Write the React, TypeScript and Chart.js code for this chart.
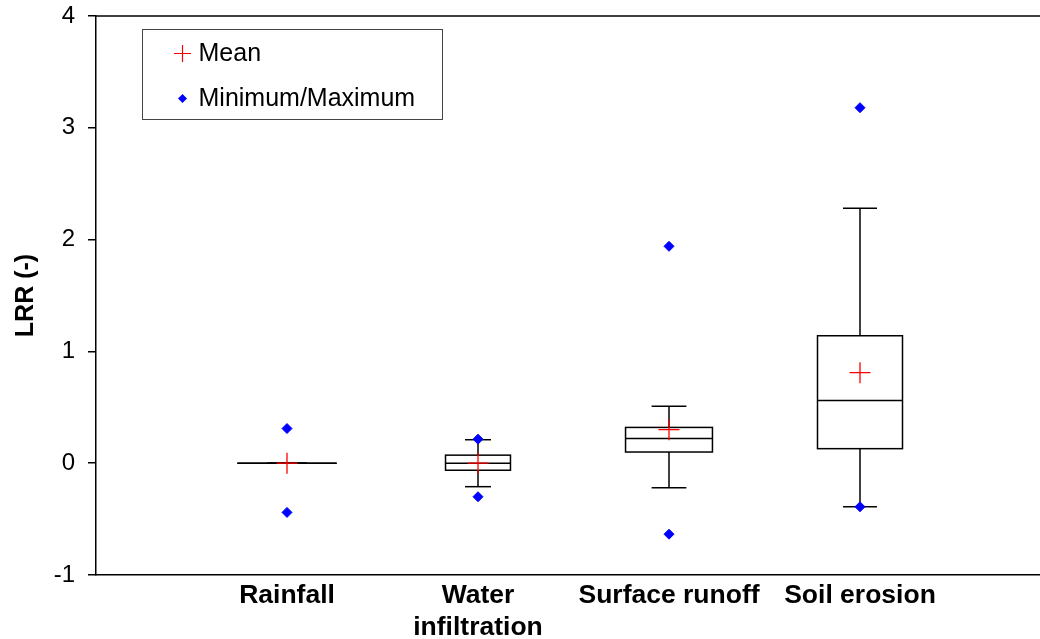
import { useEffect, useRef } from 'react';
import { Chart, registerables } from 'chart.js';

Chart.register(...registerables);

// Categories and their positions on the x axis
const categories: (string | string[])[] = ['Rainfall', ['Water', 'infiltration'], 'Surface runoff', 'Soil erosion'];
const positions = [1, 2, 3, 4];
const boxWidths = [0.52, 0.34, 0.455, 0.445];

// Box-plot statistics of the log response ratio
const minimum = [-0.44, -0.3, -0.635, -0.39];
const maximum = [0.31, 0.215, 1.94, 3.18];
const whiskerLow = [0, -0.21, -0.22, -0.39];
const whiskerHigh = [0, 0.21, 0.51, 2.28];
const q1 = [0, -0.063, 0.1, 0.13];
const median = [0, 0, 0.22, 0.56];
const q3 = [0, 0.072, 0.32, 1.14];
const mean = [0, 0, 0.3, 0.81];

const yTicks = [-1, 0, 1, 2, 3, 4];

const FONT = '"Liberation Sans", Arial, Helvetica, sans-serif';

const boxPlugin = {
  id: 'boxWhisker',
  beforeDatasetsDraw(chart: any) {
    const { ctx, scales } = chart;
    const x = scales.x;
    const y = scales.y;
    ctx.save();
    ctx.strokeStyle = '#000';
    ctx.lineWidth = 1.5;
    const line = (x1: number, y1: number, x2: number, y2: number) => {
      ctx.beginPath();
      ctx.moveTo(x1, y1);
      ctx.lineTo(x2, y2);
      ctx.stroke();
    };
    positions.forEach((p, i) => {
      const cx = x.getPixelForValue(p);
      const half = (x.getPixelForValue(p + boxWidths[i] / 2) - x.getPixelForValue(p - boxWidths[i] / 2)) / 2;
      const capHalf = half * 0.4;
      const yLo = y.getPixelForValue(whiskerLow[i]);
      const yHi = y.getPixelForValue(whiskerHigh[i]);
      const yQ1 = y.getPixelForValue(q1[i]);
      const yQ3 = y.getPixelForValue(q3[i]);
      const yMed = y.getPixelForValue(median[i]);
      line(cx, yQ3, cx, yHi);
      line(cx - capHalf, yHi, cx + capHalf, yHi);
      line(cx, yQ1, cx, yLo);
      line(cx - capHalf, yLo, cx + capHalf, yLo);
      ctx.strokeRect(cx - half, yQ3, 2 * half, yQ1 - yQ3);
      line(cx - half, yMed, cx + half, yMed);
    });
    ctx.restore();
  },
};

const framePlugin = {
  id: 'frameAndLegend',
  afterDraw(chart: any) {
    const { ctx, chartArea } = chart;
    ctx.save();
    // top frame line
    ctx.strokeStyle = '#000';
    ctx.lineWidth = 1.5;
    ctx.beginPath();
    ctx.moveTo(chartArea.left, chartArea.top);
    ctx.lineTo(chartArea.right, chartArea.top);
    ctx.stroke();

    // legend box
    const lx = chartArea.left + 46.5;
    const ly = chartArea.top + 13.5;
    ctx.strokeStyle = '#444';
    ctx.lineWidth = 1;
    ctx.strokeRect(lx, ly, 300, 90);

    const mx = lx + 40;
    const row1 = ly + 24;
    const row2 = ly + 69;
    ctx.strokeStyle = 'rgb(255,0,0)';
    ctx.lineWidth = 1.2;
    ctx.beginPath();
    ctx.moveTo(mx - 8.5, row1);
    ctx.lineTo(mx + 8.5, row1);
    ctx.moveTo(mx, row1 - 8.5);
    ctx.lineTo(mx, row1 + 8.5);
    ctx.stroke();

    ctx.fillStyle = 'rgb(0,0,255)';
    ctx.beginPath();
    ctx.moveTo(mx, row2 - 4.5);
    ctx.lineTo(mx + 4.5, row2);
    ctx.lineTo(mx, row2 + 4.5);
    ctx.lineTo(mx - 4.5, row2);
    ctx.closePath();
    ctx.fill();

    ctx.fillStyle = '#000';
    ctx.font = `25px ${FONT}`;
    ctx.textAlign = 'left';
    ctx.textBaseline = 'middle';
    ctx.fillText('Mean', lx + 56, row1 + 1);
    ctx.fillText('Minimum/Maximum', lx + 56, row2 + 1);
    ctx.restore();
  },
};

export default function App() {
  const ref = useRef<HTMLCanvasElement>(null);

  useEffect(() => {
    const chart = new Chart(ref.current as HTMLCanvasElement, {
      type: 'scatter',
      data: {
        datasets: [
          {
            label: 'Mean',
            data: positions.map((p, i) => ({ x: p, y: mean[i] })),
            pointStyle: 'cross',
            pointRadius: 10.5,
            borderColor: 'rgb(255,0,0)',
            backgroundColor: 'rgb(255,0,0)',
            borderWidth: 1.3,
          },
          {
            label: 'Minimum',
            data: positions.map((p, i) => ({ x: p, y: minimum[i] })),
            pointStyle: 'rectRot',
            pointRadius: 5,
            borderColor: 'rgb(0,0,255)',
            backgroundColor: 'rgb(0,0,255)',
            borderWidth: 1,
          },
          {
            label: 'Maximum',
            data: positions.map((p, i) => ({ x: p, y: maximum[i] })),
            pointStyle: 'rectRot',
            pointRadius: 5,
            borderColor: 'rgb(0,0,255)',
            backgroundColor: 'rgb(0,0,255)',
            borderWidth: 1,
          },
        ],
      },
      options: {
        responsive: false,
        maintainAspectRatio: false,
        animation: false,
        layout: { autoPadding: false, padding: { top: 16, left: 0, right: 0, bottom: 0 } },
        plugins: {
          legend: { display: false },
          tooltip: { enabled: false },
        },
        scales: {
          x: {
            type: 'linear',
            min: 0,
            max: 5,
            afterBuildTicks: (scale: any) => {
              scale.ticks = positions.map((v) => ({ value: v }));
            },
            afterFit: (scale: any) => {
              scale.height = 64;
              scale.paddingLeft = 0;
              scale.paddingRight = 0;
            },
            grid: { display: false, drawTicks: false },
            border: { display: true, color: '#000', width: 1.5 },
            ticks: {
              autoSkip: false,
              maxRotation: 0,
              padding: 5,
              color: '#000',
              font: { family: FONT, size: 26.5, weight: 'bold', lineHeight: '32px' },
              callback: (value: any) => {
                const idx = positions.indexOf(Number(value));
                return idx >= 0 ? categories[idx] : '';
              },
            },
          },
          y: {
            type: 'linear',
            min: -1,
            max: 4,
            afterBuildTicks: (scale: any) => {
              scale.ticks = yTicks.map((v) => ({ value: v }));
            },
            afterFit: (scale: any) => {
              scale.width = 96;
              scale.paddingTop = 0;
              scale.paddingBottom = 0;
            },
            grid: {
              display: true,
              drawOnChartArea: false,
              drawTicks: true,
              tickLength: 8,
              color: '#000',
              lineWidth: 1.5,
            },
            border: { display: true, color: '#000', width: 1.5 },
            ticks: {
              padding: 13,
              color: '#000',
              font: { family: FONT, size: 24 },
              callback: (value: any) => String(value),
            },
            title: {
              display: true,
              text: 'LRR (-)',
              color: '#000',
              padding: { top: 11, bottom: 0 },
              font: { family: FONT, size: 25, weight: 'bold' },
            },
          },
        },
      },
      plugins: [boxPlugin, framePlugin],
    } as any);
    return () => chart.destroy();
  }, []);

  return (
    <div
      style={{
        position: 'fixed',
        left: 0,
        top: 0,
        width: 1040,
        height: 639,
        overflow: 'hidden',
        background: '#fff',
      }}
    >
      <div style={{ width: 1051, height: 639 }}>
        <canvas ref={ref} width={1051} height={639} style={{ display: 'block', width: 1051, height: 639 }} />
      </div>
    </div>
  );
}
